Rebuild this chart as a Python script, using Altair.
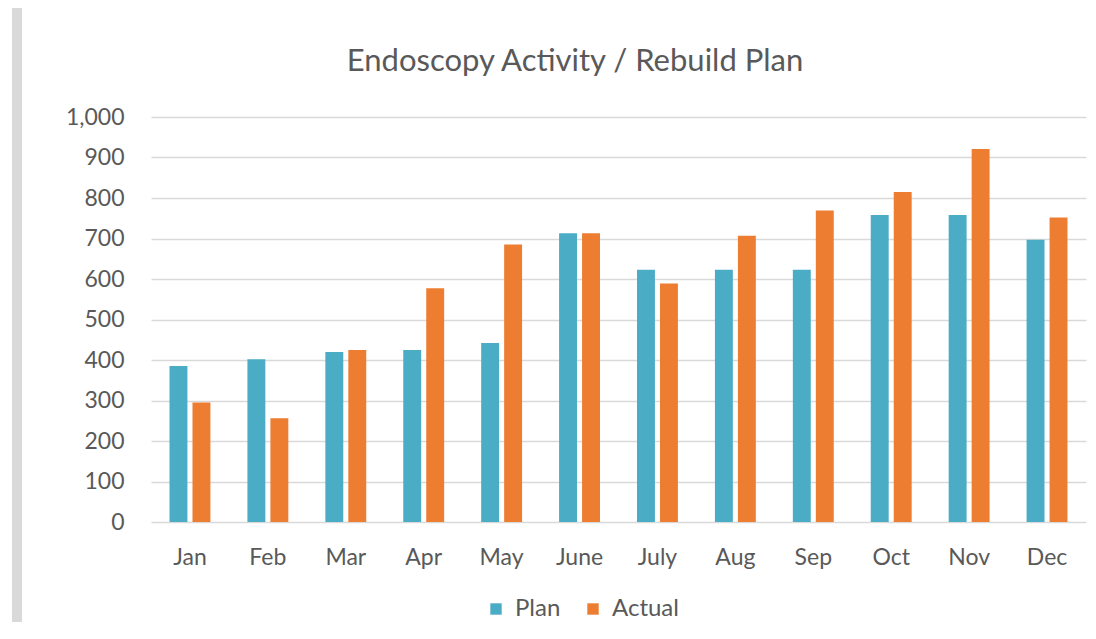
import altair as alt
import pandas as pd

months = ["Jan", "Feb", "Mar", "Apr", "May", "June", "July", "Aug", "Sep", "Oct", "Nov", "Dec"]
plan = [385, 402, 420, 425, 442, 713, 623, 623, 623, 758, 758, 697]
actual = [295, 256, 425, 577, 685, 713, 589, 707, 769, 815, 921, 752]
series = ["Plan", "Actual"]
colors = ["#4bacc6", "#ed7d31"]
title_text = "Endoscopy Activity / Rebuild Plan"

rows = []
for m, p, a in zip(months, plan, actual):
    rows.append({"month": m, "series": "Plan", "value": p})
    rows.append({"month": m, "series": "Actual", "value": a})
df = pd.DataFrame(rows)

FONT = "Lato"
GREY = "#595959"

bars = alt.Chart(df).mark_bar().encode(
    x=alt.X("month:N", sort=months, title=None,
            scale=alt.Scale(paddingInner=0.475, paddingOuter=0.2375),
            axis=alt.Axis(labelAngle=0, ticks=False, domain=False, labelPadding=24,
                          labelFontSize=23, labelColor=GREY, labelFont=FONT, grid=False)),
    xOffset=alt.XOffset("series:N", sort=series, scale=alt.Scale(paddingInner=0.22)),
    y=alt.Y("value:Q", title=None,
            scale=alt.Scale(domain=[0, 1000]),
            axis=alt.Axis(values=list(range(0, 1001, 100)), format=",d", ticks=False, domain=False,
                          labelPadding=27, labelFontSize=23, labelColor=GREY, labelFont=FONT,
                          gridColor="#d9d9d9", gridWidth=1.5)),
    color=alt.Color("series:N", sort=series,
                    scale=alt.Scale(domain=series, range=colors),
                    legend=alt.Legend(title=None, orient="none", legendX=333, legendY=480,
                                      direction="horizontal", symbolType="square", symbolSize=130,
                                      symbolStrokeWidth=0, labelFontSize=24, labelColor=GREY,
                                      labelFont=FONT, columnPadding=20, labelOffset=7)),
)

title = alt.Chart(alt.Data(values=[{"t": title_text}])).mark_text(
    font=FONT, fontSize=31, color=GREY, align="center", baseline="alphabetic"
).encode(text="t:N", x=alt.value(424), y=alt.value(-46))

frame = alt.Chart(alt.Data(values=[{}])).mark_rect(color="#d9d9d9").encode(
    x=alt.value(-139), x2=alt.value(-129), y=alt.value(-117), y2=alt.value(520)
)

chart = alt.layer(frame, bars, title).properties(
    width=935, height=405,
    padding={"left": 143, "top": 109, "right": 2, "bottom": 100},
    autosize=alt.AutoSizeParams(type="none"),
).configure_view(stroke=None)

chart.save("out.html", embed_options={"renderer": "svg", "actions": False})
